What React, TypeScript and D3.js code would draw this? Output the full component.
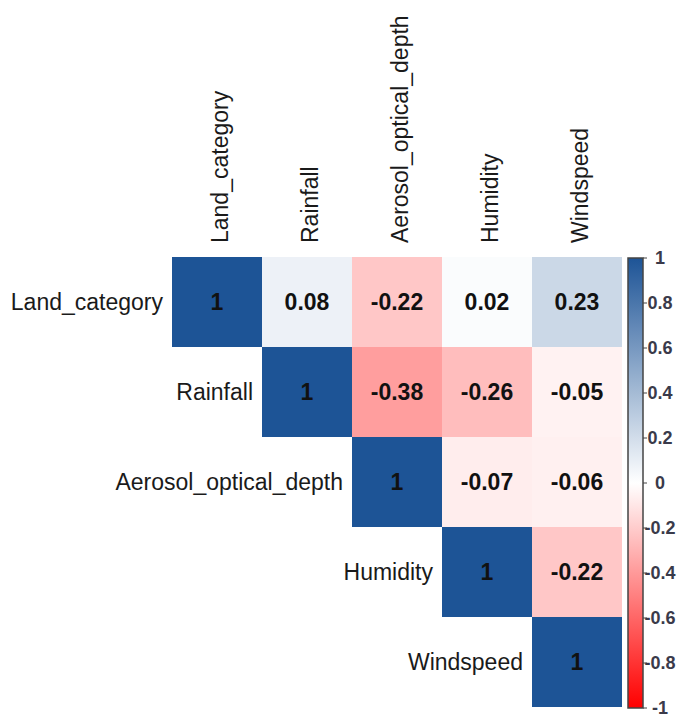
import React, { useEffect, useRef } from "react";
import * as d3 from "d3";

const variables = ["Land_category", "Rainfall", "Aerosol_optical_depth", "Humidity", "Windspeed"];

// upper triangle, row by row (starting from the diagonal)
const landRow = [1, 0.08, -0.22, 0.02, 0.23];
const rainfallRow = [1, -0.38, -0.26, -0.05];
const aerosolRow = [1, -0.07, -0.06];
const humidityRow = [1, -0.22];
const windspeedRow = [1];

const legendTicks = [1, 0.8, 0.6, 0.4, 0.2, 0, -0.2, -0.4, -0.6, -0.8, -1];

const rows = [landRow, rainfallRow, aerosolRow, humidityRow, windspeedRow];

const App = () => {
  const svgRef = useRef<SVGSVGElement>(null);

  useEffect(() => {
    const width = 682;
    const height = 723;
    const left = 172;
    const top = 257;
    const size = 450;

    const svg = d3.select(svgRef.current);
    svg.selectAll("*").remove();

    const x = d3.scaleBand().domain(variables).range([left, left + size]);
    const y = d3.scaleBand().domain(variables).range([top, top + size]);

    const color = d3
      .scaleLinear<string>()
      .domain([-1, 0, 1])
      .range(["#ff0000", "#ffffff", "#1d5496"]);

    const cells = rows.flatMap((vals, i) =>
      vals.map((v, k) => ({ row: variables[i], col: variables[i + k], val: v }))
    );

    svg
      .append("g")
      .selectAll("rect")
      .data(cells)
      .join("rect")
      .attr("x", (d) => x(d.col)!)
      .attr("y", (d) => y(d.row)!)
      .attr("width", x.bandwidth())
      .attr("height", y.bandwidth())
      .attr("fill", (d) => color(d.val));

    svg
      .append("g")
      .selectAll("text")
      .data(cells)
      .join("text")
      .attr("x", (d) => x(d.col)! + x.bandwidth() / 2)
      .attr("y", (d) => y(d.row)! + y.bandwidth() / 2)
      .attr("dy", "0.35em")
      .attr("text-anchor", "middle")
      .style("font-family", "'Liberation Sans', Arial, sans-serif")
      .style("font-size", "23px")
      .style("font-weight", "bold")
      .attr("fill", "#111")
      .text((d) => String(d.val));

    // column labels, rotated
    svg
      .append("g")
      .selectAll("text")
      .data(variables)
      .join("text")
      .attr(
        "transform",
        (d) => `translate(${x(d)! + x.bandwidth() / 2 + 3},${top - 14}) rotate(-90)`
      )
      .attr("dy", "0.35em")
      .attr("text-anchor", "start")
      .style("font-family", "'Liberation Sans', Arial, sans-serif")
      .style("font-size", "23px")
      .attr("fill", "#1a1a1a")
      .text((d) => d);

    // row labels, next to the diagonal
    svg
      .append("g")
      .selectAll("text")
      .data(variables)
      .join("text")
      .attr("x", (d) => x(d)! - 9)
      .attr("y", (d) => y(d)! + y.bandwidth() / 2)
      .attr("dy", "0.35em")
      .attr("text-anchor", "end")
      .style("font-family", "'Liberation Sans', Arial, sans-serif")
      .style("font-size", "23px")
      .attr("fill", "#1a1a1a")
      .text((d) => d);

    // colour legend
    const barX = 628;
    const barW = 15;
    const ly = d3.scaleLinear().domain([-1, 1]).range([top + size + 1, top + 1]);

    const defs = svg.append("defs");
    const grad = defs
      .append("linearGradient")
      .attr("id", "corr-grad")
      .attr("x1", 0)
      .attr("y1", 1)
      .attr("x2", 0)
      .attr("y2", 0);
    grad
      .selectAll("stop")
      .data(d3.range(-1, 1.001, 0.1))
      .join("stop")
      .attr("offset", (d) => (d + 1) / 2)
      .attr("stop-color", (d) => color(d));

    svg
      .append("rect")
      .attr("x", barX)
      .attr("y", ly(1))
      .attr("width", barW)
      .attr("height", ly(-1) - ly(1))
      .attr("fill", "url(#corr-grad)")
      .attr("stroke", "#444")
      .attr("stroke-width", 1.5);

    const tickG = svg
      .append("g")
      .selectAll("g")
      .data(legendTicks)
      .join("g")
      .attr("transform", (d) => `translate(${barX + barW},${ly(d)})`);
    tickG
      .append("line")
      .attr("x1", 0)
      .attr("x2", 4)
      .attr("stroke", "#444");
    tickG
      .append("text")
      .attr("x", 17)
      .attr("dy", "0.35em")
      .attr("text-anchor", "middle")
      .style("font-family", "'Liberation Sans', Arial, sans-serif")
      .style("font-size", "18px")
      .style("font-weight", "bold")
      .attr("fill", "#3a3a4a")
      .text((d) => String(d));

    svg.attr("width", width).attr("height", height);
  }, []);

  return (
    <div style={{ position: "absolute", left: 0, top: 0, background: "#fff" }}>
      <svg ref={svgRef} width={682} height={723} style={{ display: "block" }}></svg>
    </div>
  );
};

export default App;
